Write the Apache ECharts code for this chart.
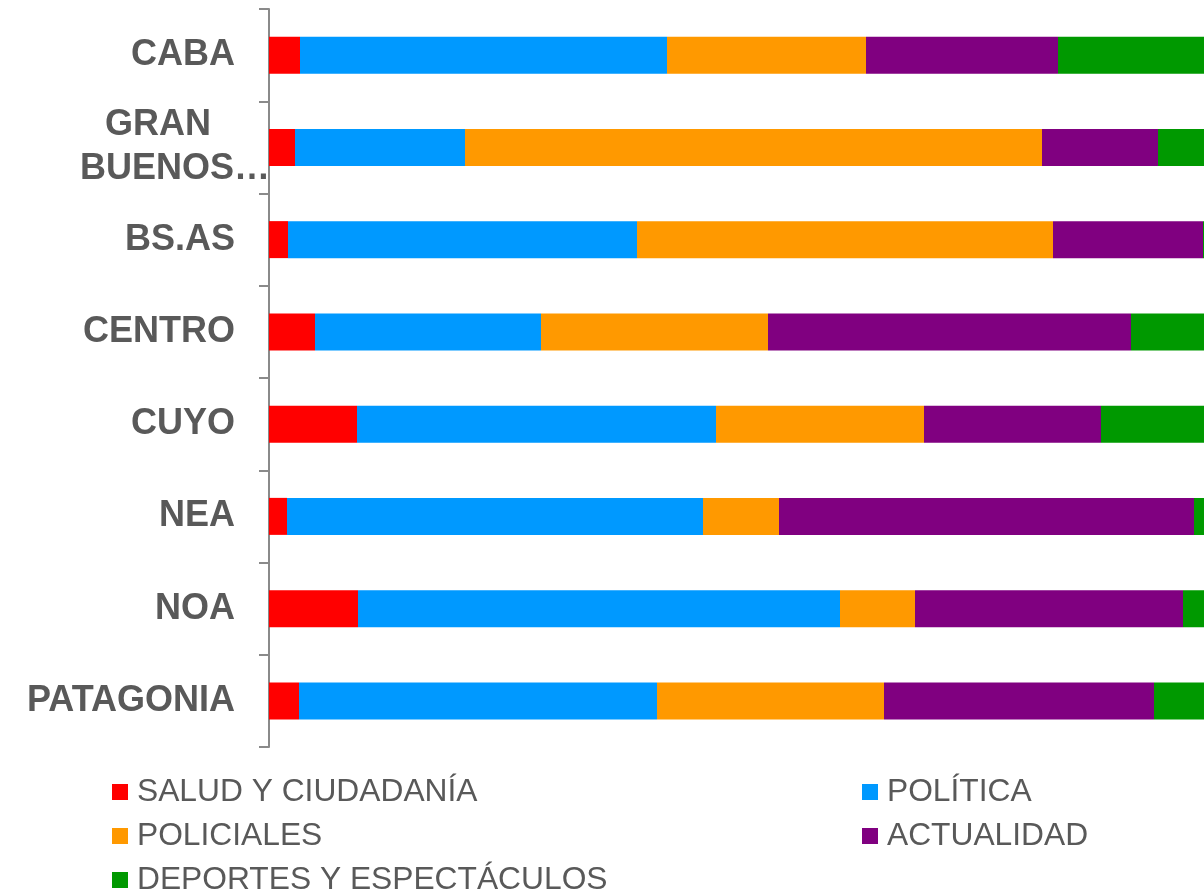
<!DOCTYPE html>
<html>
<head>
<meta charset="utf-8">
<script src="https://cdn.jsdelivr.net/npm/echarts@6/dist/echarts.min.js"></script>
<style>
html,body{margin:0;padding:0;background:#fff;}
#chart{width:1204px;height:892px;}
</style>
</head>
<body>
<div id="chart"></div>
<script>
const categories = ['CABA', 'GRAN\nBUENOS…', 'BS.AS', 'CENTRO', 'CUYO', 'NEA', 'NOA', 'PATAGONIA'];
const seriesNames = ['SALUD Y CIUDADANÍA', 'POLÍTICA', 'POLICIALES', 'ACTUALIDAD', 'DEPORTES Y ESPECTÁCULOS'];
const salud      = [3.1, 2.6, 1.9, 4.6, 8.8, 1.8, 8.9, 3.0];
const politica   = [36.7, 17.0, 34.9, 22.6, 35.9, 41.6, 48.2, 35.8];
const policiales = [19.9, 57.7, 41.6, 22.7, 20.8, 7.6, 7.5, 22.7];
const actualidad = [19.2, 11.6, 15.0, 36.3, 17.7, 41.5, 26.8, 27.0];
const deportes   = [21.1, 11.1, 6.6, 13.8, 16.8, 7.5, 8.6, 11.5];
const colors = ['#FF0000', '#0099FF', '#FF9900', '#800080', '#009900'];

const values = [salud, politica, policiales, actualidad, deportes];
const chart = echarts.init(document.getElementById('chart'), null, {renderer: 'canvas'});
const font = '"Liberation Sans", Arial, sans-serif';
const labelBase = {fontSize: 36, fontWeight: 'bold', color: '#595959', fontFamily: font, lineHeight: 44};

// legend slot for each series: [left, top]
const legendSlots = [[112, 770], [862, 770], [112, 814], [862, 814], [112, 858]];

chart.setOption({
  animation: false,
  backgroundColor: '#ffffff',
  grid: {left: 269, width: 1000, top: 9, height: 738, containLabel: false, outerBoundsMode: 'none'},
  xAxis: {type: 'value', min: 0, max: 100, show: false},
  yAxis: {
    type: 'category',
    inverse: true,
    data: categories,
    axisLine: {show: true, lineStyle: {color: '#8a8a8a', width: 2}},
    axisTick: {show: true, length: 10, inside: false, lineStyle: {color: '#8a8a8a', width: 2}},
    axisLabel: {
      margin: -1,
      formatter: function (v) {
        if (v.indexOf('\n') >= 0) {
          const parts = v.split('\n');
          return '{g|' + parts[0] + '}\n{e|' + parts[1] + '}';
        }
        return '{n|' + v + '}';
      },
      rich: {
        n: Object.assign({padding: [0, 35, 0, 0]}, labelBase),
        g: Object.assign({padding: [0, 59, 0, 0]}, labelBase),
        e: Object.assign({padding: [0, 0, 0, 0]}, labelBase)
      }
    },
    splitLine: {show: false}
  },
  legend: seriesNames.map(function (name, i) {
    return {
      left: legendSlots[i][0], top: legendSlots[i][1],
      itemWidth: 16, itemHeight: 16, icon: 'rect', padding: 0,
      data: [name],
      textStyle: {fontSize: 31.75, color: '#595959', fontFamily: font, lineHeight: 44, padding: [0, 0, 0, 4]}
    };
  }),
  series: seriesNames.map(function (name, i) {
    return {
      name: name,
      type: 'bar',
      stack: 'total',
      barWidth: 37,
      itemStyle: {color: colors[i]},
      data: values[i]
    };
  })
});
</script>
</body>
</html>
